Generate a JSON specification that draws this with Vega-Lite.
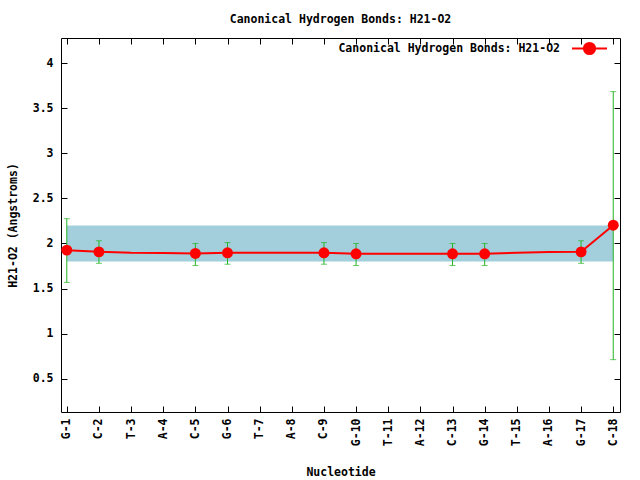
{
  "$schema": "https://vega.github.io/schema/vega-lite/v6.json",
  "autosize": "none",
  "width": 559,
  "height": 374,
  "padding": {"left": 61, "top": 38, "right": 20, "bottom": 68},
  "background": "white",
  "config": {
    "font": "DejaVu Sans Mono",
    "view": {"stroke": "black", "strokeWidth": 1},
    "axis": {"labelFont": "DejaVu Sans Mono", "labelFontWeight": "bold", "labelFontSize": 11.5, "labelColor": "black", "titleFont": "DejaVu Sans Mono", "titleFontWeight": "bold", "titleFontSize": 11.5, "titleColor": "black", "domain": false, "grid": false, "tickColor": "black", "tickSize": -6}
  },
  "title": {"text": "Canonical Hydrogen Bonds: H21-O2", "font": "DejaVu Sans Mono", "fontWeight": "bold", "fontSize": 11.5, "color": "black", "anchor": "middle", "offset": 5},
  "datasets": {
    "series": [
      {"pos": 1, "name": "G-1", "value": 1.926},
      {"pos": 2, "name": "C-2", "value": 1.907},
      {"pos": 3, "name": "T-3", "value": 1.896},
      {"pos": 4, "name": "A-4", "value": 1.894},
      {"pos": 5, "name": "C-5", "value": 1.889},
      {"pos": 6, "name": "G-6", "value": 1.897},
      {"pos": 7, "name": "T-7", "value": 1.896},
      {"pos": 8, "name": "A-8", "value": 1.896},
      {"pos": 9, "name": "C-9", "value": 1.896},
      {"pos": 10, "name": "G-10", "value": 1.885},
      {"pos": 11, "name": "T-11", "value": 1.885},
      {"pos": 12, "name": "A-12", "value": 1.885},
      {"pos": 13, "name": "C-13", "value": 1.885},
      {"pos": 14, "name": "G-14", "value": 1.885},
      {"pos": 15, "name": "T-15", "value": 1.896},
      {"pos": 16, "name": "A-16", "value": 1.905},
      {"pos": 17, "name": "G-17", "value": 1.907},
      {"pos": 18, "name": "C-18", "value": 2.203}
    ],
    "points": [
      {"pos": 1, "value": 1.926, "lo": 1.568, "hi": 2.275},
      {"pos": 2, "value": 1.907, "lo": 1.78, "hi": 2.03},
      {"pos": 5, "value": 1.889, "lo": 1.755, "hi": 2.0},
      {"pos": 6, "value": 1.897, "lo": 1.77, "hi": 2.01},
      {"pos": 9, "value": 1.896, "lo": 1.77, "hi": 2.01},
      {"pos": 10, "value": 1.885, "lo": 1.755, "hi": 2.0},
      {"pos": 13, "value": 1.885, "lo": 1.755, "hi": 2.0},
      {"pos": 14, "value": 1.885, "lo": 1.755, "hi": 2.0},
      {"pos": 17, "value": 1.907, "lo": 1.78, "hi": 2.03},
      {"pos": 18, "value": 2.203, "lo": 0.711, "hi": 3.685}
    ],
    "band": [{"x1": 1, "x2": 18, "y1": 1.8, "y2": 2.2}]
  },
  "layer": [
    {
      "data": {"name": "band"},
      "mark": {"type": "rect", "color": "#a3cfdd"},
      "encoding": {
        "x": {"field": "x1", "type": "quantitative", "scale": {"domain": [0.82, 18.21], "nice": false, "zero": false},
          "axis": {"orient": "bottom", "title": "Nucleotide", "values": [1,2,3,4,5,6,7,8,9,10,11,12,13,14,15,16,17,18], "labelAngle": -90, "labelPadding": 12,
            "labelExpr": "['','G-1','C-2','T-3','A-4','C-5','G-6','T-7','A-8','C-9','G-10','T-11','A-12','C-13','G-14','T-15','A-16','G-17','C-18'][datum.value]",
            "titleY": 60, "titleBaseline": "middle"}},
        "x2": {"field": "x2"},
        "y": {"field": "y1", "type": "quantitative", "scale": {"domain": [0.13, 4.28], "nice": false, "zero": false},
          "axis": {"orient": "left", "title": "H21-O2 (Angstroms)", "values": [0.5,1,1.5,2,2.5,3,3.5,4], "format": "~g", "labelPadding": 14, "titleX": -48, "titleBaseline": "middle"}},
        "y2": {"field": "y2"}
      }
    },
    {
      "data": {"name": "band"},
      "mark": {"type": "rect", "opacity": 0},
      "encoding": {
        "x": {"field": "x1", "type": "quantitative", "axis": {"orient": "top", "labels": false, "title": null, "values": [1,2,3,4,5,6,7,8,9,10,11,12,13,14,15,16,17,18]}},
        "x2": {"field": "x2"},
        "y": {"field": "y1", "type": "quantitative", "axis": {"orient": "right", "labels": false, "title": null, "values": [0.5,1,1.5,2,2.5,3,3.5,4]}},
        "y2": {"field": "y2"}
      }
    },
    {
      "data": {"name": "points"},
      "mark": {"type": "rule", "color": "#22b422", "strokeWidth": 1},
      "encoding": {
        "x": {"field": "pos", "type": "quantitative", "axis": null},
        "y": {"field": "lo", "type": "quantitative", "axis": null},
        "y2": {"field": "hi"}
      }
    },
    {
      "data": {"name": "points"},
      "mark": {"type": "tick", "color": "#22b422", "orient": "horizontal", "size": 6, "thickness": 1},
      "encoding": {
        "x": {"field": "pos", "type": "quantitative", "axis": null},
        "y": {"field": "lo", "type": "quantitative", "axis": null}
      }
    },
    {
      "data": {"name": "points"},
      "mark": {"type": "tick", "color": "#22b422", "orient": "horizontal", "size": 6, "thickness": 1},
      "encoding": {
        "x": {"field": "pos", "type": "quantitative", "axis": null},
        "y": {"field": "hi", "type": "quantitative", "axis": null}
      }
    },
    {
      "data": {"name": "series"},
      "mark": {"type": "line", "strokeWidth": 2},
      "encoding": {
        "x": {"field": "pos", "type": "quantitative", "axis": null},
        "y": {"field": "value", "type": "quantitative", "axis": null},
        "color": {"datum": "Canonical Hydrogen Bonds: H21-O2", "type": "nominal", "scale": {"range": ["#ff0000"]},
          "legend": {"title": null, "orient": "none", "legendX": 510, "legendY": -8,
            "symbolType": "M-1,0L1,0M-0.32,0A0.32,0.32 0 1,1 0.32,0A0.32,0.32 0 1,1 -0.32,0Z",
            "symbolSize": 1225, "symbolFillColor": "#ff0000", "symbolStrokeColor": "#ff0000", "symbolStrokeWidth": 2,
            "labelAlign": "right", "labelOffset": -48, "labelLimit": 0, "labelFont": "DejaVu Sans Mono", "labelFontWeight": "bold", "labelFontSize": 11.5, "labelColor": "black"}}
      }
    },
    {
      "data": {"name": "points"},
      "mark": {"type": "point", "shape": "circle", "filled": true, "color": "#ff0000", "opacity": 1, "size": 120},
      "encoding": {
        "x": {"field": "pos", "type": "quantitative", "axis": null},
        "y": {"field": "value", "type": "quantitative", "axis": null}
      }
    }
  ],
  "resolve": {"axis": {"x": "independent", "y": "independent"}}
}
